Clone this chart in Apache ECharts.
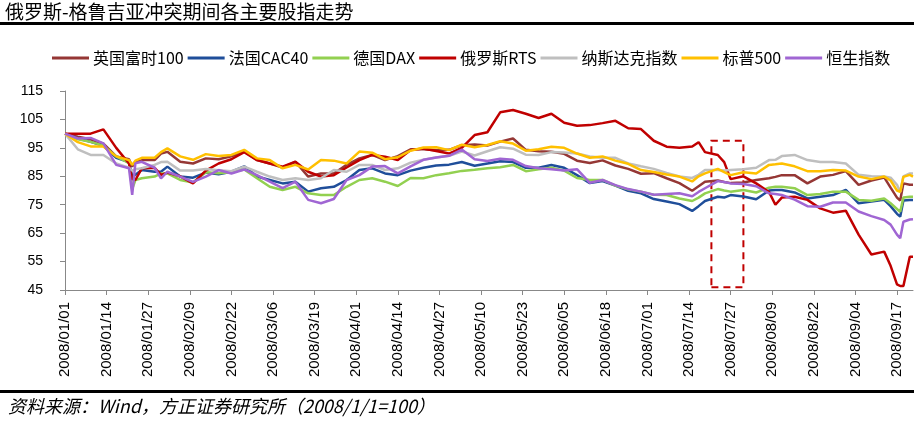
<!DOCTYPE html>
<html>
<head>
<meta charset="utf-8">
<script src="https://cdn.jsdelivr.net/npm/echarts@6/dist/echarts.min.js"></script>
<style>
html,body{margin:0;padding:0;background:#fff;}
#c{width:914px;height:423px;}
</style>
</head>
<body>
<div id="c"></div>
<script>
// day offsets from 2008/01/01 at which values were read
const days = [0,4,8,12,16,20,21,22,24,28,30,32,36,40,44,48,52,56,60,64,68,72,76,80,84,88,92,96,100,104,108,112,116,120,124,128,132,136,140,144,148,152,156,160,164,168,172,176,180,184,188,192,196,198,200,204,206,208,212,216,220,222,224,228,232,236,240,244,248,252,256,258,260,261,262,264,265];

const ftse = [100,98.9,98,96.5,92,91,88.4,90,90.7,90.7,
93,93.6,90.1,89.5,91.3,91,92,93.7,90.7,89.5,
88.1,90.1,84.9,86,86,89,91.3,92.5,90.7,92.1,
94.5,94.5,94.2,94.3,95.9,96.2,95.8,97.2,98.3,94.3,
93.8,93.6,92.9,90.5,89.7,90.6,88.8,87.6,85.9,86.1,
84.3,82.6,79.9,81.5,83.1,83.5,83,82.6,82.8,83.7,
84.3,84.8,85.4,85.4,82.5,84.9,85.5,86.8,82,83.5,
84.6,81,77.5,76.5,82.5,82,82];

const cac = [100,98.3,97.1,95.7,91.5,90,85,85.5,87.2,86.6,
86.6,88.4,84.9,84.5,86.3,85.7,86.6,88.5,84.9,83.7,
82.5,83.1,79.6,80.8,81.3,83.7,87.2,87.8,86,85.4,
87,88,88.8,89.1,90,88.7,89.5,90.3,90,88,
88,89,88,85.4,82.6,83.3,81.7,79.9,79,77,
76.1,75.2,72.8,74.5,76.3,77.8,77.5,78.4,77.9,76.9,
80,80.2,80.2,79.3,77.2,77.8,78.4,80.2,75.5,76.1,
76.7,74.5,71.8,70.8,76.5,76.7,76.7];

const dax = [100,98,97.1,95.8,92,89.6,80.5,83.7,84.3,84.9,
86,86,83.7,82.8,86.4,86.1,86.4,87.4,84.3,81.3,
80.2,81.3,79,78.4,78.4,81.3,83.7,84.3,83.1,81.6,
84.4,84.3,85.4,86.1,86.9,87.3,87.8,88.2,89,86.8,
87.5,88,87,84.4,83.7,83.7,81.7,80.4,79.6,78.5,
78.4,77.2,76.3,77.5,79,80.5,80,79.6,80.2,79.3,
81,81.3,81.3,80.8,78.4,78.8,79.6,79.6,76.7,76.4,
77.2,75.5,73.5,72.5,77.5,77.8,77.8];

const rts = [100,100,100,101.5,95,89.5,84,83.7,87.8,88,
85.5,86.3,85,82.5,87,89.5,91,93.5,90.7,89.5,
88.4,90.1,86.6,84.9,85.4,88.1,90.7,92.5,91.9,90.7,
94.2,94.8,93.9,93,95,99.5,100.5,107.5,108.3,107,
105.5,107,103.8,102.8,103,103.7,104.5,101.9,101.6,97.5,
95.4,95,95.5,97,93.5,92.5,90,84,85,82.5,
79.5,75,77.5,77.8,76.7,73.7,72.2,72.9,64.5,57.5,
58.5,53.5,47,46.4,46.4,56.7,56.7];

const nasdaq = [100,94.5,92.5,92.5,89.5,88,87,87.5,87.8,89,
90,90.1,87,87,87.6,87.1,86.8,88.4,86.6,84.9,
83.7,84.3,83.7,84.3,87.2,86.6,89,89,87.2,87.8,
89.8,90.8,91.6,92.2,93.7,92.3,93.8,95.2,94.7,92.6,
92.5,93.5,93.4,93,92,91.5,91.5,89.5,88.5,87.6,
86.2,84.9,84.4,85.5,87.2,87.2,87,87.2,87.5,88,
90.7,90.8,92.1,92.5,90.7,90,90,89.5,85.5,85,
84.9,84.5,82,79.5,85,86,86];

const sp500 = [100,97,95.5,95.5,92,90.7,89,90.5,91.5,91.5,
93.5,94.8,92,90.8,92.8,92.1,92.5,94.3,91.3,90.7,
87.8,89,87.4,90.7,90.5,89.5,93.7,93.3,91,91.7,
94,95.1,95.2,94.2,96.1,95.2,96,97.3,96.5,94,
94.5,95.4,95,93,91.5,92,90.5,89.4,87.2,86.5,
85.6,84.9,83.2,85,86,87.6,86.5,85.4,86.4,86,
89,89.2,89.5,88.5,86.8,86.8,87.2,87,84.9,84,
84.9,83.5,80,79.5,84.8,85.5,84.9];

const hsi = [100,98.3,98.5,96.6,89,87.8,78.5,89.6,90.1,88,
84.3,86.6,84.9,83,84.9,87.2,86,87.4,85.4,83.1,
80.8,83.1,76.7,75.5,77,83.7,85.4,88.4,88.6,86,
88.5,90.8,91.6,92.2,94.4,91,90.4,91.2,90.8,88.6,
87.8,87.5,87,87.5,82.7,83.7,81.9,80.5,79.6,78.5,
78.8,79,78,79.5,80.8,83.3,83,82.5,82.3,81.5,
79,78.8,78.4,76.8,74.5,74.3,75.8,75.8,72.6,71,
69.6,68,64.5,63.2,69,69.8,69.9];

const seriesNames = ['英国富时100','法国CAC40','德国DAX','俄罗斯RTS','纳斯达克指数','标普500','恒生指数'];
const seriesColors = ['#953735','#1F4E9A','#92D050','#C00000','#BFBFBF','#FFC000','#A066D3'];
const seriesValues = [ftse, cac, dax, rts, nasdaq, sp500, hsi];

// category dates: every calendar day from 2008/01/01 to 2008/09/22
const dayCount = 266;
const cats = [];
for (let i = 0; i < dayCount; i++) {
  const d = new Date(2008, 0, 1 + i);
  const mm = String(d.getMonth() + 1).padStart(2, '0');
  const dd = String(d.getDate()).padStart(2, '0');
  cats.push(d.getFullYear() + '/' + mm + '/' + dd);
}

// highlighted period (dashed box)
const boxStart = 202, boxEnd = 212, boxLow = 46, boxHigh = 97.5;

const chart = echarts.init(document.getElementById('c'), null, {renderer: 'canvas'});
const cjk = '"Noto Sans CJK SC", "Noto Sans", sans-serif';
const latin = '"Liberation Sans", Arial, sans-serif';

const series = seriesNames.map((name, k) => {
  const s = {
    name: name,
    type: 'line',
    data: days.map((d, i) => [d, seriesValues[k][i]]),
    showSymbol: false,
    symbol: 'none',
    lineStyle: {width: 2.5, color: seriesColors[k]},
    itemStyle: {color: seriesColors[k]},
    animation: false,
    z: 2 + k
  };
  if (name === '俄罗斯RTS') {
    s.markArea = {
      silent: true,
      itemStyle: {color: 'rgba(0,0,0,0)', borderColor: '#C00000', borderWidth: 2, borderType: [7, 5]},
      data: [[{xAxis: boxStart, yAxis: boxLow}, {xAxis: boxEnd, yAxis: boxHigh}]]
    };
  }
  return s;
});

chart.setOption({
  animation: false,
  backgroundColor: '#fff',
  grid: {left: 65, right: 1, top: 91, bottom: 133, containLabel: false},
  legend: {
    data: seriesNames.map((n, k) => ({name: n, icon: 'rect', itemStyle: {color: seriesColors[k]}})),
    left: 47, top: 45,
    itemWidth: 37, itemHeight: 3, itemGap: 4,
    textStyle: {fontSize: 16, fontFamily: cjk, color: '#000', padding: [0, 0, 0, -1]}
  },
  xAxis: {
    type: 'category',
    data: cats,
    boundaryGap: false,
    axisLine: {lineStyle: {color: '#888', width: 1}},
    axisTick: {interval: 12, length: 5, lineStyle: {color: '#888'}},
    axisLabel: {interval: 12, rotate: 90, margin: 12, fontSize: 15, fontFamily: latin, color: '#000'},
    splitLine: {show: false}
  },
  yAxis: {
    type: 'value',
    min: 45, max: 115, interval: 10,
    axisLine: {show: true, lineStyle: {color: '#888', width: 1}},
    axisTick: {show: true, length: 5, lineStyle: {color: '#888'}},
    axisLabel: {margin: 22, fontSize: 14, fontFamily: latin, color: '#000'},
    splitLine: {show: false}
  },
  graphic: [
    {type: 'text', left: 5, top: 2, style: {text: '俄罗斯-格鲁吉亚冲突期间各主要股指走势', fontSize: 19, fontFamily: cjk, fill: '#000'}},
    {type: 'rect', shape: {x: 0, y: 22, width: 914, height: 3}, style: {fill: '#000'}},
    {type: 'rect', shape: {x: 0, y: 390, width: 914, height: 3}, style: {fill: '#000'}},
    {type: 'text', left: 8, top: 397, style: {text: '资料来源：Wind，方正证券研究所（2008/1/1=100）', fontSize: 18, fontStyle: 'italic', fontFamily: cjk, fill: '#000'}}
  ],
  series: series
});
</script>
</body>
</html>
